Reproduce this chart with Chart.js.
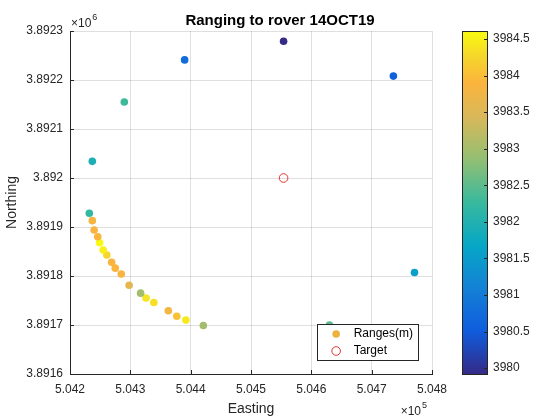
<!DOCTYPE html>
<html>
<head>
<meta charset="utf-8">
<title>Ranging to rover 14OCT19</title>
<style>
body { margin: 0; padding: 0; background: #fff; }
#wrap { width: 560px; height: 420px; }
</style>
<script src="https://cdn.jsdelivr.net/npm/chart.js@4.4.0/dist/chart.umd.min.js"></script>
</head>
<body>
<div id="wrap"><canvas id="chart"></canvas></div>
<script>
// ranging fixes (UTM metres) and measured range
var easting = [504554, 504390, 504736, 504290, 504237, 504771, 504630,
  504421, 504392, 504377, 504363, 504339, 504326, 504317, 504298, 504285,
  504275, 504269, 504261, 504255, 504249, 504246, 504240, 504237, 504232];
var northing = [3892279, 3892241, 3892208, 3892155, 3892034, 3891807, 3891700,
  3891699, 3891710, 3891718, 3891729, 3891746, 3891755, 3891765, 3891781, 3891804,
  3891816, 3891828, 3891843, 3891853, 3891868, 3891880, 3891894, 3891913, 3891928];
var ranges = [3979.92, 3980.75, 3980.6, 3982.3, 3981.93, 3981.56, 3982.5,
  3983.0, 3984.45, 3984.05, 3983.8, 3984.35, 3984.4, 3983.0, 3983.6, 3983.85,
  3983.9, 3983.88, 3984.25, 3984.5, 3984.61, 3983.9, 3983.85, 3983.85, 3982.2];
var targetE = [504554];
var targetN = [3892000];

var xTicks = [504200, 504300, 504400, 504500, 504600, 504700, 504800];
var yTicks = [3891600, 3891700, 3891800, 3891900, 3892000, 3892100, 3892200, 3892300];
var cbTicks = [3980, 3980.5, 3981, 3981.5, 3982, 3982.5, 3983, 3983.5, 3984, 3984.5];

var parulaStops = [
  [0, '#352a87'], [0.125, '#0f5cdd'], [0.25, '#1481d6'], [0.375, '#06a7c6'],
  [0.5, '#38b99e'], [0.625, '#92bf73'], [0.75, '#d9b85a'], [0.85, '#fbb43c'],
  [0.93, '#f5d82a'], [1, '#f9fb0e']
];

function hexRgb(h) {
  return [parseInt(h.substr(1, 2), 16), parseInt(h.substr(3, 2), 16), parseInt(h.substr(5, 2), 16)];
}

function parula(t) {
  t = Math.max(0, Math.min(1, t));
  for (var i = 1; i < parulaStops.length; i++) {
    if (t <= parulaStops[i][0]) {
      var a = parulaStops[i - 1], b = parulaStops[i];
      var f = (t - a[0]) / (b[0] - a[0]);
      var ca = hexRgb(a[1]), cb = hexRgb(b[1]);
      return 'rgb(' + Math.round(ca[0] + (cb[0] - ca[0]) * f) + ',' +
        Math.round(ca[1] + (cb[1] - ca[1]) * f) + ',' +
        Math.round(ca[2] + (cb[2] - ca[2]) * f) + ')';
    }
  }
  return parulaStops[parulaStops.length - 1][1];
}

var cMin = Math.min.apply(null, ranges);
var cMax = Math.max.apply(null, ranges);
var axisColor = '#262626';
var gridColor = 'rgba(38,38,38,0.15)';
var fontFamily = "'Liberation Sans', Arial, sans-serif";

Chart.defaults.font.family = fontFamily;
Chart.defaults.color = axisColor;

function setTicks(list) {
  return function (s) { s.ticks = list.map(function (v) { return { value: v }; }); };
}

var extras = {
  id: 'extras',
  afterDatasetsDraw: function (chart) {
    var ctx = chart.ctx, a = chart.chartArea;
    // inward tick marks
    ctx.save();
    ctx.strokeStyle = axisColor;
    ctx.lineWidth = 1;
    ctx.beginPath();
    xTicks.forEach(function (v) {
      var px = Math.round(chart.scales.x.getPixelForValue(v)) + 0.5;
      ctx.moveTo(px, a.bottom); ctx.lineTo(px, a.bottom - 4);
    });
    yTicks.forEach(function (v) {
      var py = Math.round(chart.scales.y.getPixelForValue(v)) + 0.5;
      ctx.moveTo(a.left, py); ctx.lineTo(a.left + 4, py);
    });
    ctx.stroke();

    // legend box
    var ds = chart.data.datasets;
    ctx.font = '12px ' + fontFamily;
    var tw = Math.max(ctx.measureText(ds[0].label).width, ctx.measureText(ds[1].label).width);
    var bw = 37 + tw + 5, bh = 36;
    var bx = a.right - 14 - bw, by = a.bottom - 14 - bh;
    ctx.fillStyle = '#fff';
    ctx.fillRect(bx, by, bw, bh);
    ctx.strokeStyle = axisColor;
    ctx.strokeRect(Math.round(bx) + 0.5, Math.round(by) + 0.5, Math.round(bw), bh);
    ctx.beginPath();
    ctx.arc(bx + 19.5, by + 10, 3.8, 0, Math.PI * 2);
    ctx.fillStyle = '#edb13e';
    ctx.fill();
    ctx.beginPath();
    ctx.arc(bx + 19.5, by + 27, 4.3, 0, Math.PI * 2);
    ctx.strokeStyle = ds[1].borderColor;
    ctx.stroke();
    ctx.fillStyle = '#000';
    ctx.textBaseline = 'middle';
    ctx.textAlign = 'left';
    ctx.fillText(ds[0].label, bx + 37, by + 10);
    ctx.fillText(ds[1].label, bx + 37, by + 27);
    ctx.restore();
  },
  afterDraw: function (chart) {
    var ctx = chart.ctx, a = chart.chartArea, cb = chart.scales.cb;
    ctx.save();
    // colour bar
    var x0 = 462, w = 25;
    var top = cb.getPixelForValue(cMax), bot = cb.getPixelForValue(cMin);
    var g = ctx.createLinearGradient(0, bot, 0, top);
    parulaStops.forEach(function (s) { g.addColorStop(s[0], s[1]); });
    ctx.fillStyle = g;
    ctx.fillRect(x0, top, w, bot - top);
    ctx.strokeStyle = axisColor;
    ctx.lineWidth = 1;
    ctx.strokeRect(x0 + 0.5, Math.round(top) + 0.5, w, Math.round(bot - top));
    ctx.beginPath();
    cbTicks.forEach(function (v) {
      var py = Math.round(cb.getPixelForValue(v)) + 0.5;
      ctx.moveTo(x0 + w, py); ctx.lineTo(x0 + w - 3, py);
    });
    ctx.stroke();

    // axis exponents
    ctx.fillStyle = axisColor;
    ctx.textBaseline = 'alphabetic';
    ctx.textAlign = 'left';
    ctx.font = '12px ' + fontFamily;
    var w1 = ctx.measureText('\u00d710').width;
    ctx.fillText('\u00d710', a.left + 1, 27);
    ctx.font = '9px ' + fontFamily;
    ctx.fillText('6', a.left + 1 + w1 + 1, 20);
    ctx.font = '12px ' + fontFamily;
    var w2 = ctx.measureText('\u00d710').width;
    ctx.fillText('\u00d710', 421 - w2, 415);
    ctx.font = '9px ' + fontFamily;
    ctx.fillText('5', 422, 408);
    ctx.restore();
  }
};

new Chart(document.getElementById('chart'), {
  type: 'scatter',
  data: {
    datasets: [{
      label: 'Ranges(m)',
      data: easting.map(function (e, i) { return { x: e, y: northing[i] }; }),
      backgroundColor: ranges.map(function (v) { return parula((v - cMin) / (cMax - cMin)); }),
      pointRadius: 3.8,
      pointHoverRadius: 3.8,
      pointBorderWidth: 0
    }, {
      label: 'Target',
      data: targetE.map(function (e, i) { return { x: e, y: targetN[i] }; }),
      backgroundColor: 'rgba(0,0,0,0)',
      borderColor: '#e2332f',
      pointRadius: 4.3,
      pointHoverRadius: 4.3,
      pointBorderWidth: 1
    }]
  },
  options: {
    responsive: true,
    maintainAspectRatio: false,
    animation: false,
    events: [],
    layout: { padding: 0 },
    scales: {
      x: {
        type: 'linear',
        position: 'bottom',
        min: 504200,
        max: 504800,
        afterBuildTicks: setTicks(xTicks),
        afterFit: function (s) { s.height = 46; },
        grid: { color: gridColor, drawTicks: false },
        border: { color: axisColor, width: 1 },
        ticks: {
          padding: 8,
          maxRotation: 0,
          font: { size: 12 },
          callback: function (v) { return (v / 1e5).toFixed(3); }
        },
        title: { display: true, text: 'Easting', font: { size: 14 }, padding: { top: 0, bottom: 2 } }
      },
      y: {
        type: 'linear',
        position: 'left',
        min: 3891600,
        max: 3892300,
        afterBuildTicks: setTicks(yTicks),
        afterFit: function (s) { s.width = 70; },
        grid: { color: gridColor, drawTicks: false },
        border: { color: axisColor, width: 1 },
        ticks: {
          padding: 7,
          font: { size: 12 },
          callback: function (v) { return String(parseFloat((v / 1e6).toFixed(4))); }
        },
        title: { display: true, text: 'Northing', font: { size: 14 }, padding: { top: 4, bottom: 0 } }
      },
      cb: {
        type: 'linear',
        position: 'right',
        min: cMin,
        max: cMax,
        afterBuildTicks: setTicks(cbTicks),
        afterFit: function (s) { s.width = 128; },
        grid: { display: false, drawTicks: true, tickLength: 58 },
        border: { display: false },
        ticks: {
          padding: 3,
          font: { size: 12 },
          callback: function (v) { return String(v); }
        }
      }
    },
    plugins: {
      legend: { display: false },
      tooltip: { enabled: false },
      title: {
        display: true,
        text: 'Ranging to rover 14OCT19',
        color: '#000',
        font: { size: 15, weight: 'bold' },
        padding: { top: 12, bottom: 1 }
      }
    }
  },
  plugins: [extras]
});
</script>
</body>
</html>
